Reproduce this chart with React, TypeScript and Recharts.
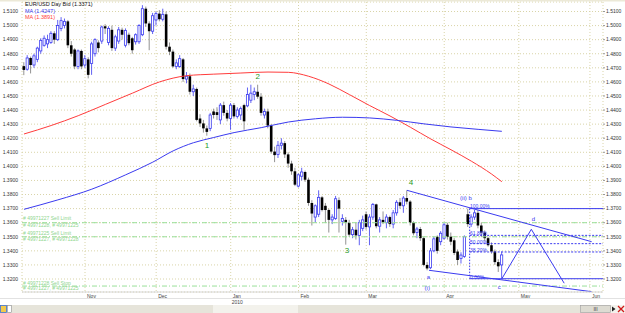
import React from "react";
import {
  ComposedChart,
  Bar,
  Line,
  XAxis,
  YAxis,
  CartesianGrid,
  ReferenceLine,
  ReferenceDot,
} from "recharts";

const FONT = '"Liberation Sans", Arial, sans-serif';

// EUR/USD daily candles, one per trading day (index 0 = Oct 7 2009)
const opens = [
  1.4712, 1.469, 1.477, 1.472, 1.476, 1.482, 1.486, 1.487, 1.488, 1.4945,
  1.49, 1.498, 1.5, 1.503, 1.486, 1.483, 1.471, 1.482, 1.472, 1.476,
  1.473, 1.48, 1.488, 1.489, 1.4995, 1.488, 1.497, 1.484, 1.489, 1.497,
  1.486, 1.4935, 1.491, 1.4885, 1.4885, 1.4935, 1.512, 1.5015, 1.496, 1.504,
  1.5085, 1.5045, 1.508, 1.485, 1.4815, 1.471, 1.471, 1.476, 1.462, 1.464,
  1.453, 1.455, 1.434, 1.4305, 1.427, 1.427, 1.439, 1.4385, 1.433, 1.4435,
  1.438, 1.434, 1.4435, 1.4355, 1.4365, 1.4435, 1.443, 1.447, 1.451, 1.453,
  1.4495, 1.4365, 1.439, 1.429, 1.4105, 1.4085, 1.415, 1.4165, 1.4085, 1.402,
  1.3965, 1.386, 1.393, 1.396, 1.3905, 1.374, 1.364, 1.366, 1.378, 1.372,
  1.369, 1.362, 1.363, 1.376, 1.361, 1.362, 1.36, 1.3515, 1.355, 1.351,
  1.356, 1.366, 1.357, 1.364, 1.373, 1.3575, 1.362, 1.36, 1.364, 1.359,
  1.367, 1.3745, 1.372, 1.3775, 1.375, 1.36, 1.353, 1.3555, 1.349, 1.33,
  1.328, 1.34, 1.35, 1.3465, 1.349, 1.3585, 1.35, 1.3475, 1.3395, 1.3345,
  1.336, 1.366, 1.359, 1.364, 1.367, 1.358, 1.353, 1.349, 1.344, 1.3395,
  1.332, 1.33,
];
const highs = [
  1.474, 1.479, 1.478, 1.48, 1.485, 1.491, 1.493, 1.4935, 1.496, 1.496,
  1.504, 1.506, 1.505, 1.504, 1.489, 1.484, 1.483, 1.483, 1.479, 1.4775,
  1.4885, 1.491, 1.4895, 1.5, 1.501, 1.4995, 1.5, 1.4935, 1.499, 1.4985,
  1.498, 1.495, 1.492, 1.4945, 1.501, 1.5145, 1.5135, 1.503, 1.509, 1.51,
  1.511, 1.512, 1.51, 1.488, 1.483, 1.476, 1.479, 1.477, 1.467, 1.466,
  1.458, 1.456, 1.437, 1.433, 1.429, 1.438, 1.441, 1.442, 1.445, 1.446,
  1.44, 1.445, 1.445, 1.442, 1.4425, 1.4445, 1.456, 1.458, 1.456, 1.458,
  1.452, 1.441, 1.441, 1.43, 1.414, 1.418, 1.42, 1.418, 1.41, 1.404,
  1.399, 1.395, 1.399, 1.397, 1.392, 1.376, 1.373, 1.383, 1.379, 1.374,
  1.37, 1.366, 1.379, 1.378, 1.366, 1.364, 1.362, 1.357, 1.36, 1.362,
  1.365, 1.368, 1.366, 1.374, 1.3735, 1.364, 1.368, 1.366, 1.365, 1.369,
  1.376, 1.3775, 1.379, 1.383, 1.376, 1.361, 1.357, 1.357, 1.35, 1.332,
  1.342, 1.35, 1.351, 1.354, 1.36, 1.36, 1.353, 1.349, 1.341, 1.339,
  1.351, 1.37, 1.366, 1.369, 1.369, 1.36, 1.3545, 1.35, 1.346, 1.341,
  1.334, 1.3395,
];
const lows = [
  1.4648, 1.468, 1.466, 1.47, 1.474, 1.48, 1.485, 1.484, 1.487, 1.487,
  1.489, 1.496, 1.498, 1.484, 1.478, 1.469, 1.469, 1.469, 1.47, 1.4625,
  1.465, 1.478, 1.481, 1.487, 1.494, 1.486, 1.482, 1.482, 1.487, 1.49,
  1.4845, 1.486, 1.48, 1.4865, 1.487, 1.4925, 1.499, 1.4825, 1.494, 1.5,
  1.503, 1.503, 1.483, 1.479, 1.47, 1.469, 1.47, 1.46, 1.459, 1.451,
  1.45, 1.432, 1.428, 1.424, 1.4218, 1.425, 1.434, 1.433, 1.43, 1.436,
  1.432, 1.426, 1.434, 1.434, 1.433, 1.426, 1.442, 1.445, 1.447, 1.448,
  1.436, 1.434, 1.427, 1.409, 1.403, 1.406, 1.412, 1.406, 1.399, 1.394,
  1.386, 1.385, 1.39, 1.389, 1.372, 1.358, 1.36, 1.364, 1.368, 1.36,
  1.353, 1.359, 1.362, 1.353, 1.358, 1.3444, 1.35, 1.349, 1.348, 1.344,
  1.354, 1.355, 1.344, 1.362, 1.356, 1.353, 1.359, 1.356, 1.357, 1.356,
  1.365, 1.37, 1.367, 1.373, 1.358, 1.351, 1.349, 1.347, 1.329, 1.3262,
  1.327, 1.339, 1.338, 1.344, 1.348, 1.348, 1.344, 1.337, 1.33, 1.331,
  1.335, 1.357, 1.357, 1.362, 1.356, 1.35, 1.347, 1.343, 1.338, 1.33,
  1.325, 1.3202,
];
const closes = [
  1.4685, 1.477, 1.472, 1.4785, 1.484, 1.4895, 1.491, 1.49, 1.4945, 1.49,
  1.5, 1.5035, 1.503, 1.486, 1.48, 1.471, 1.482, 1.471, 1.4765, 1.465,
  1.487, 1.49, 1.484, 1.499, 1.498, 1.498, 1.484, 1.492, 1.497, 1.4935,
  1.4965, 1.4875, 1.4825, 1.4935, 1.5, 1.512, 1.5015, 1.496, 1.507, 1.5085,
  1.5045, 1.508, 1.485, 1.4815, 1.471, 1.4735, 1.4765, 1.462, 1.464, 1.453,
  1.455, 1.433, 1.4305, 1.427, 1.4245, 1.4365, 1.4365, 1.4365, 1.4435, 1.438,
  1.434, 1.4435, 1.4355, 1.44, 1.441, 1.432, 1.451, 1.452, 1.453, 1.4495,
  1.438, 1.439, 1.429, 1.4105, 1.408, 1.415, 1.4165, 1.4085, 1.402, 1.3965,
  1.387, 1.394, 1.396, 1.3905, 1.374, 1.3665, 1.372, 1.378, 1.369, 1.369,
  1.362, 1.364, 1.377, 1.37, 1.363, 1.36, 1.3515, 1.355, 1.351, 1.36,
  1.362, 1.357, 1.364, 1.373, 1.3575, 1.362, 1.36, 1.364, 1.359, 1.367,
  1.3745, 1.372, 1.3775, 1.375, 1.36, 1.3525, 1.3555, 1.349, 1.33, 1.3275,
  1.34, 1.3485, 1.34, 1.3525, 1.3585, 1.35, 1.3465, 1.3385, 1.3335, 1.337,
  1.35, 1.359, 1.364, 1.367, 1.358, 1.353, 1.349, 1.344, 1.3395, 1.332,
  1.329, 1.3371,
];

// moving averages, read at a few days
const redMaDays = [0, 8, 16, 24, 32, 40, 48, 56, 64, 72, 78, 84, 90, 96, 102, 108, 114, 120, 126, 132, 138, 141];
const redMaValues = [
  1.423, 1.429, 1.436, 1.444, 1.452, 1.46, 1.4644, 1.4655, 1.4663, 1.467, 1.4668,
  1.464, 1.4585, 1.451, 1.4432, 1.4358, 1.4278, 1.4195, 1.4118, 1.4037, 1.3945, 1.3891,
];
const blueMaDays = [0, 10, 20, 30, 38, 44, 50, 56, 62, 70, 78, 86, 94, 102, 110, 118, 126, 134, 141];
const blueMaValues = [
  1.3695, 1.3762, 1.3838, 1.394, 1.403, 1.411, 1.4168, 1.4205, 1.424, 1.4275,
  1.4315, 1.4338, 1.4349, 1.4344, 1.4327, 1.4302, 1.428, 1.4263, 1.4249,
];

const monthTicks = [18, 39, 61, 81, 101, 124, 146, 167];
const monthNames = ["Nov", "Dec", "Jan", "Feb", "Mar", "Apr", "May", "Jun"];
const priceTicks = [
  1.32, 1.33, 1.34, 1.35, 1.36, 1.37, 1.38, 1.39, 1.4, 1.41,
  1.42, 1.43, 1.44, 1.45, 1.46, 1.47, 1.48, 1.49, 1.5, 1.51,
];

// pending orders
const orderLevels = [1.36, 1.35, 1.315];
const orderTexts = [
  { t: "# 49971227 Sell Limit", p: 1.3631 },
  { t: "# 49971228, # 49971225", p: 1.3584 },
  { t: "# 49971225 Sell Limit", p: 1.3525 },
  { t: "# 49971227, # 49971228", p: 1.3484 },
  { t: "# 49971228 Sell Stop", p: 1.3174 },
  { t: "# 49971227, # 49971225", p: 1.3134 },
];

// fibonacci b -> c
const fibLevels = [1.37, 1.351, 1.3451, 1.3392, 1.3202];
const fibNames = ["100.00%", "61.80%", "50.00%", "38.20%", "0.00%"];
const fibLabelPrices = [1.3716, 1.3525, 1.3465, 1.3406, 1.3216];
const fibStart = 131.5;

const upperTrend = [{ i: 113, p: 1.383 }, { i: 167.5, p: 1.3465 }];
const lowerTrend = [{ i: 119.5, p: 1.3262 }, { i: 167.5, p: 1.311 }];
const projection = [{ i: 141, p: 1.3202 }, { i: 149.7, p: 1.3553 }, { i: 159.4, p: 1.317 }];

const waveLabels = [
  { t: "1", i: 54, p: 1.4145 },
  { t: "2", i: 69, p: 1.4635 },
  { t: "3", i: 95.3, p: 1.3399 },
  { t: "4", i: 114.2, p: 1.3882 },
];
const subLabels = [
  { t: "(ii) b", i: 130.4, p: 1.3772 },
  { t: "a", i: 119.3, p: 1.3211 },
  { t: "(i)", i: 119.0, p: 1.3134 },
  { t: "c", i: 140.2, p: 1.3141 },
  { t: "d", i: 150.3, p: 1.3624 },
];

const X_DOMAIN = [-0.59, 170.85];
const Y_DOMAIN = [1.31077, 1.51675];

const BLUE = "#3a3af0";
const GREEN_LINE = "#9be09b";

const Candle = (props: any) => {
  const { x, y, width, height, payload } = props;
  if (x == null || y == null || !payload) return null;
  const { open, close, high, low } = payload;
  const top = Math.min(y, y + height);
  const h = Math.abs(height);
  const span = high - low || 1;
  const toY = (v: number) => top + ((high - v) / span) * h;
  const cx = x + width / 2;
  const up = close >= open;
  const bTop = toY(Math.max(open, close));
  const bh = Math.max(toY(Math.min(open, close)) - bTop, 0.8);
  return (
    <g>
      <line x1={cx} x2={cx} y1={top} y2={top + h} stroke={up ? BLUE : "#777"} strokeWidth={0.8} />
      {up ? (
        <rect x={cx - 1.1} y={bTop} width={2.2} height={bh} fill="#fff" stroke={BLUE} strokeWidth={0.8} />
      ) : (
        <rect x={cx - 1.3} y={bTop} width={2.6} height={bh} fill="#000" />
      )}
    </g>
  );
};

const MonthTick = (props: any) => {
  const { x, y, payload } = props;
  const k = monthTicks.indexOf(payload.value);
  return (
    <g>
      <text x={x + 2} y={y + 3.6} fontSize={5} fontFamily={FONT} fill="#444" dominantBaseline="central">
        {monthNames[k]}
      </text>
      {monthNames[k] === "Jan" && (
        <text x={x + 1} y={y + 10} fontSize={5} fontFamily={FONT} fill="#444" dominantBaseline="central">
          2010
        </text>
      )}
    </g>
  );
};

const textShape = (t: string, color: string, size: number, anchor: string) => (p: any) => (
  <text
    x={p.cx}
    y={p.cy}
    fill={color}
    fontSize={size}
    fontFamily={FONT}
    textAnchor={anchor}
    dominantBaseline="central"
  >
    {t}
  </text>
);

export default function App() {
  const candles = opens.map((o, i) => ({ i, open: o, high: highs[i], low: lows[i], close: closes[i] }));
  const redMa = redMaDays.map((d, k) => ({ i: d, p: redMaValues[k] }));
  const blueMa = blueMaDays.map((d, k) => ({ i: d, p: blueMaValues[k] }));

  return (
    <div style={{ position: "fixed", left: 0, top: 0, width: 625, height: 313, background: "#fff", overflow: "hidden" }}>
      <ComposedChart width={625} height={313} data={candles} margin={{ top: 2, right: 0, bottom: 8, left: 0 }}>
        <CartesianGrid stroke="#d9d4a8" strokeDasharray="1 2" />
        <XAxis
          dataKey="i"
          type="number"
          domain={X_DOMAIN}
          allowDataOverflow
          ticks={monthTicks}
          interval={0}
          tick={<MonthTick />}
          tickLine={false}
          tickSize={0}
          tickMargin={0}
          height={13}
          axisLine={{ stroke: "#d6d6d6" }}
        />
        <YAxis
          type="number"
          domain={Y_DOMAIN}
          allowDataOverflow
          ticks={priceTicks}
          interval={0}
          tickFormatter={(v: number) => v.toFixed(4)}
          width={22}
          tickSize={2}
          tickMargin={2}
          tickLine={false}
          axisLine={false}
          tick={{ fontSize: 5, fill: "#333", fontFamily: FONT }}
        />
        <YAxis
          yAxisId="r"
          orientation="right"
          type="number"
          domain={Y_DOMAIN}
          allowDataOverflow
          ticks={priceTicks}
          interval={0}
          tickFormatter={(v: number) => v.toFixed(4)}
          width={22}
          tickSize={2}
          tickMargin={1}
          tickLine={{ stroke: "#999" }}
          axisLine={false}
          tick={{ fontSize: 5, fill: "#333", fontFamily: FONT }}
        />

        {orderLevels.map((v) => (
          <ReferenceLine key={"o" + v} y={v} stroke={GREEN_LINE} strokeDasharray="5 2 1 2" ifOverflow="visible" />
        ))}
        {orderTexts.map((o, k) => (
          <ReferenceDot
            key={"ot" + k}
            x={-0.3}
            y={o.p}
            r={0}
            ifOverflow="visible"
            shape={textShape(o.t, "#8fd68f", 5, "start")}
          />
        ))}

        <Bar
          dataKey={(d: any) => [d.low, d.high]}
          barSize={3}
          shape={(p: any) => <Candle {...p} />}
          isAnimationActive={false}
        />

        <Line data={redMa} dataKey="p" type="monotone" stroke="#ff3c3c" strokeWidth={1} dot={false} isAnimationActive={false} />
        <Line data={blueMa} dataKey="p" type="monotone" stroke={BLUE} strokeWidth={1} dot={false} isAnimationActive={false} />

        <ReferenceLine
          segment={[{ x: upperTrend[0].i, y: upperTrend[0].p }, { x: upperTrend[1].i, y: upperTrend[1].p }]}
          stroke={BLUE}
          ifOverflow="visible"
        />
        <ReferenceLine
          segment={[{ x: lowerTrend[0].i, y: lowerTrend[0].p }, { x: lowerTrend[1].i, y: lowerTrend[1].p }]}
          stroke={BLUE}
          ifOverflow="visible"
        />
        {projection.slice(1).map((pt, k) => (
          <ReferenceLine
            key={"pr" + k}
            segment={[{ x: projection[k].i, y: projection[k].p }, { x: pt.i, y: pt.p }]}
            stroke={BLUE}
            ifOverflow="visible"
          />
        ))}

        {fibLevels.map((v, k) => (
          <ReferenceLine
            key={"f" + k}
            segment={[{ x: fibStart, y: v }, { x: X_DOMAIN[1], y: v }]}
            stroke={BLUE}
            strokeDasharray={k === 0 || k === fibLevels.length - 1 ? undefined : "2 1.5"}
            ifOverflow="visible"
          />
        ))}
        <ReferenceLine
          segment={[{ x: fibStart, y: fibLevels[0] }, { x: fibStart, y: fibLevels[fibLevels.length - 1] }]}
          stroke={BLUE}
          strokeDasharray="1.5 1.5"
          ifOverflow="visible"
        />
        {fibNames.map((n, k) => (
          <ReferenceDot
            key={"fl" + k}
            x={fibStart + 0.1}
            y={fibLabelPrices[k]}
            r={0}
            ifOverflow="visible"
            shape={textShape(n, BLUE, 5, "start")}
          />
        ))}

        {waveLabels.map((w) => (
          <ReferenceDot key={"w" + w.t} x={w.i} y={w.p} r={0} ifOverflow="visible" shape={textShape(w.t, "#1f9a1f", 8, "middle")} />
        ))}
        {subLabels.map((w) => (
          <ReferenceDot key={"s" + w.t} x={w.i} y={w.p} r={0} ifOverflow="visible" shape={textShape(w.t, BLUE, 6, "middle")} />
        ))}
      </ComposedChart>

      <svg width={625} height={313} style={{ position: "absolute", left: 0, top: 0, pointerEvents: "none" }}>
        <rect x={0} y={0} width={625} height={1.5} fill="#ece9d8" />
        <g fontFamily={FONT} fontSize={5.5} dominantBaseline="central">
          <text x={25} y={4} fill="#111">EUR/USD Day Bid (1.3371)</text>
          <text x={25} y={10.5} fill={BLUE}>MA (1.4247)</text>
          <text x={25} y={16.5} fill="#ff3c3c">MA (1.3891)</text>
        </g>
        <line x1={0} x2={625} y1={298.5} y2={298.5} stroke="#e2e2e2" strokeWidth={1} />
        <rect x={0} y={305} width={625} height={8} fill="#f3f2ec" />
        <rect x={0.5} y={305.5} width={6} height={7} fill="#f2c94c" stroke="#3b6fd0" strokeWidth={0.8} />
        <rect x={7.5} y={305.5} width={4} height={7} fill="#fff" stroke="#888" strokeWidth={0.6} />
        <rect x={12} y={305} width={201} height={8} fill="#e6e4da" />
        <rect x={298} y={305} width={282} height={8} fill="#e6e4da" />
        <rect x={580.5} y={305.5} width={30} height={7} fill="#dddbd2" stroke="#9a9a9a" strokeWidth={0.6} />
        <text x={595.5} y={309} fontSize={5} fontFamily={FONT} textAnchor="middle" dominantBaseline="central" fill="#333">
          III
        </text>
        <path d="M612 306.5 L615.5 309 L612 311.5 Z" fill="#222" />
        <path d="M618 306 L624 312 M624 306 L618 312" stroke="#d01818" strokeWidth={1.3} />
      </svg>
    </div>
  );
}
